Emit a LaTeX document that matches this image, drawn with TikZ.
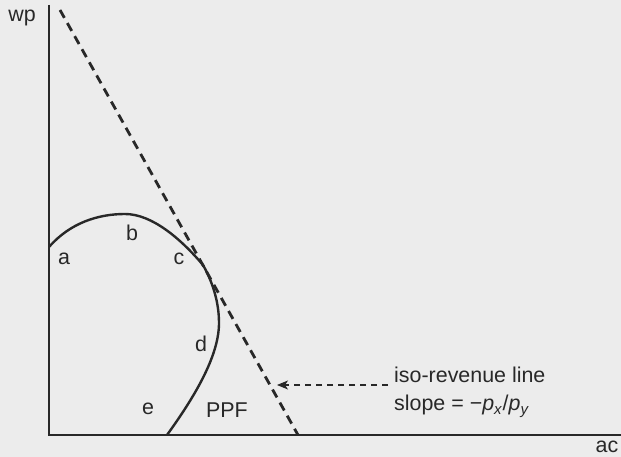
\documentclass[tikz,border=0pt]{standalone}
\usepackage{fontspec}
\setmainfont{Liberation Sans}
\usepackage{tikz}
\usetikzlibrary{arrows.meta}
\definecolor{bgpaper}{RGB}{236,236,236}
\definecolor{ink}{RGB}{40,40,40}

\begin{document}
\begin{tikzpicture}[x=1bp, y=1bp, font=\fontsize{21.5}{26}\selectfont, text=ink,
        lbl/.style={inner sep=0pt}]
        \fill[bgpaper] (0,0) rectangle (621,457);
        \useasboundingbox (0,0) rectangle (621,457);
        % axes
        \draw[ink, line width=1.3bp] (49,452) -- (49,22) -- (621,22);
        \node[lbl] (wp) at (22,439) {wp};
        \node[lbl] (ac) at (607,10) {ac};
        % PPF
        \draw[ink, line width=2.4bp] (49,210) .. controls (70,234) and (98,243) .. (125,243)
            .. controls (152,243) and (181,218) .. (203,192)
            .. controls (212,176) and (219,156) .. (219,134)
            .. controls (219,100) and (193,58) .. (167,22);
        % iso-revenue line
        \coordinate (top) at (60,447);
        \coordinate (bot) at (298,22);
        \draw[ink, line width=2.8bp, dash pattern=on 9bp off 6bp] (top) -- (bot);
        % labels
        \node[lbl] (a) at (64,198) {a};
        \node[lbl] (b) at (132,224) {b};
        \node[lbl] (c) at (179,198) {c};
        \node[lbl] (d) at (201,113) {d};
        \node[lbl] (e) at (148,48) {e};
        \node[lbl] (ppf) at (227,47) {PPF};
        \node[lbl, anchor=base west] (isoline) at (394,74) {iso-revenue line};
        \node[lbl, anchor=base west] (slope) at (394,46)
            {slope = \textminus\textit{p}\textsubscript{\textit{x}}/\textit{p}\textsubscript{\textit{y}}};
        \coordinate (tail) at (388,72);
        \coordinate (tip) at (277,72);
        \draw[ink, line width=1.1bp, dash pattern=on 6bp off 5bp, -{Stealth[length=11bp, width=9bp, inset=3bp]}] (tail) -- (tip);
    \end{tikzpicture}
\end{document}
